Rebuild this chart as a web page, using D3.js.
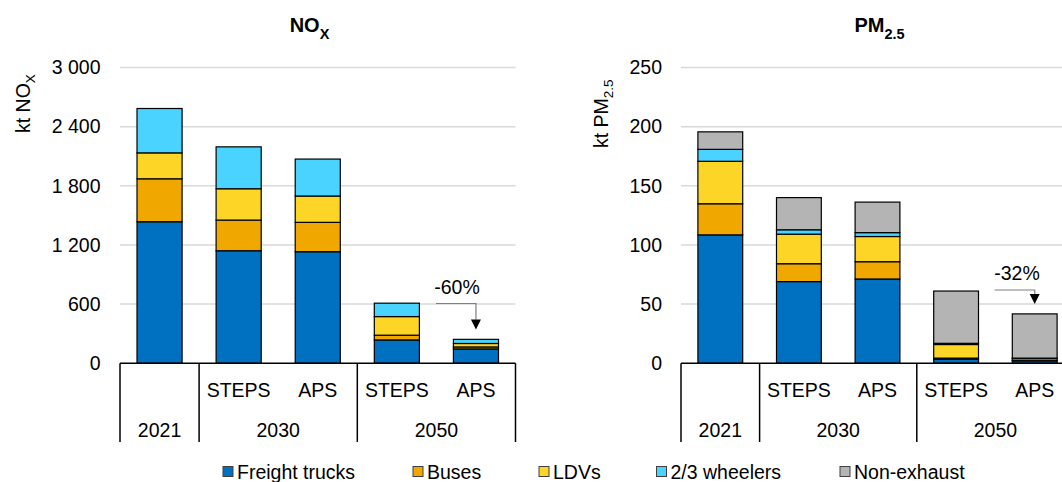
<!DOCTYPE html>
<html><head><meta charset="utf-8">
<script src="https://cdn.jsdelivr.net/npm/d3@7"></script>
<style>
body{margin:0;background:#fff;}
svg{display:block;font-family:"Liberation Sans",Arial,sans-serif;}
</style></head>
<body><svg id="c" width="1062" height="482"></svg>
<script>
// ---- data ----
const scenarios = ["", "STEPS", "APS", "STEPS", "APS"];
const years = ["2021", "2030", "2050"];
const yearSpans = [[0,0],[1,2],[3,4]];
const seriesNames = ["Freight trucks", "Buses", "LDVs", "2/3 wheelers", "Non-exhaust"];
const seriesColors = ["#0070C0", "#F0A800", "#FDD526", "#4BD3FF", "#B4B4B4"];

const noxFreight  = [1435, 1141, 1131, 236, 145];
const noxBuses    = [436, 311, 298, 48, 20];
const noxLDV      = [263, 318, 267, 189, 35];
const noxWheelers = [450, 425, 375, 136, 42];
const noxTicks = [0, 600, 1200, 1800, 2400, 3000];

const pmFreight  = [108.5, 69, 71.2, 3.5, 2];
const pmBuses    = [26.3, 15.1, 14.6, 0.8, 0.5];
const pmLDV      = [35.9, 25, 21.3, 11.5, 1.5];
const pmWheelers = [10.1, 3.7, 3.3, 1.0, 0.3];
const pmNonExh   = [14.8, 27.2, 25.8, 44.2, 37.4];
const pmTicks = [0, 50, 100, 150, 200, 250];

const noxChange = "-60%";
const pmChange = "-32%";

const svg = d3.select("#c");
const FS = 19.5;

function drawChart(cfg){
  const g = svg.append("g");
  const x = d3.scaleBand().domain(d3.range(5)).range([cfg.x0, cfg.x1]).paddingInner(0.43).paddingOuter(0.215);
  const y = d3.scaleLinear().domain([0, cfg.max]).range([363.2, 67.5]);
  const step = x.step();

  g.selectAll(".grid").data(cfg.ticks.filter(t=>t>0)).join("line")
    .attr("x1", cfg.x0).attr("x2", cfg.x1)
    .attr("y1", d=>y(d)).attr("y2", d=>y(d))
    .attr("stroke", "#D9D9D9").attr("stroke-width", 1.5);

  const ax = d3.axisLeft(y).tickValues(cfg.ticks).tickSize(0).tickPadding(0)
    .tickFormat(d => d3.format(",")(d).replace(/,/g, " "));
  const axg = g.append("g").attr("transform", `translate(${cfg.tickX},0)`).call(ax)
    .attr("font-size", FS).attr("font-family", "Liberation Sans, Arial, sans-serif");
  axg.select(".domain").remove();
  axg.selectAll("text").attr("fill", "#000");

  const rows = d3.range(5).map(i => {
    const o = {i};
    cfg.series.forEach((s, k) => o[k] = s[i]);
    return o;
  });
  const stack = d3.stack().keys(d3.range(cfg.series.length))(rows);
  stack.forEach((layer, k) => {
    g.selectAll(".b"+k).data(layer.filter(d => d[1]-d[0] > 0)).join("rect")
      .attr("x", d => x(d.data.i)).attr("width", x.bandwidth())
      .attr("y", d => y(d[1])).attr("height", d => y(d[0]) - y(d[1]))
      .attr("fill", seriesColors[k]).attr("stroke", "#000").attr("stroke-width", 1.2);
  });

  const yb = 442;
  g.append("line").attr("x1", cfg.x0).attr("x2", cfg.x1).attr("y1", y(0)).attr("y2", y(0))
    .attr("stroke", "#000").attr("stroke-width", 1.5);
  const seps = [cfg.x0, x(1) - (step - x.bandwidth())/2, x(3) - (step - x.bandwidth())/2, cfg.x1];
  g.selectAll(".sep").data(seps).join("line")
    .attr("x1", d=>d).attr("x2", d=>d).attr("y1", y(0)).attr("y2", yb)
    .attr("stroke", "#000").attr("stroke-width", 1.5);
  g.selectAll(".scen").data(scenarios).join("text")
    .attr("x", (d,i) => x(i) + x.bandwidth()/2).attr("y", 397)
    .attr("text-anchor", "middle").attr("font-size", FS).text(d=>d);
  g.selectAll(".yr").data(years).join("text")
    .attr("x", (d,i) => (x(yearSpans[i][0]) + x(yearSpans[i][1]) + x.bandwidth())/2)
    .attr("y", 437).attr("text-anchor", "middle").attr("font-size", FS).text(d=>d);

  const t = g.append("text").attr("x", cfg.titleX).attr("y", 32).attr("text-anchor", "middle")
    .attr("font-size", 20).attr("font-weight", "bold");
  t.append("tspan").text(cfg.title[0]);
  t.append("tspan").attr("dy", 7).attr("font-size", 14.5).text(cfg.title[1]);

  const yl = g.append("text").attr("transform", `translate(${cfg.ylX},${cfg.ylY}) rotate(-90)`)
    .attr("text-anchor", "start").attr("font-size", FS);
  yl.append("tspan").text(cfg.ylabel[0]);
  yl.append("tspan").attr("dy", 5).attr("font-size", 13.5).text(cfg.ylabel[1]);

  const cx = x(4) + x.bandwidth()/2;
  const ly = cfg.arrowY;
  g.append("text").attr("x", cfg.noteX).attr("y", ly - 10).attr("text-anchor", "middle")
    .attr("font-size", FS).text(cfg.change);
  g.append("path").attr("d", `M${cx-40},${ly}H${cx}V${ly+cfg.arrowLen}`)
    .attr("fill", "none").attr("stroke", "#7F7F7F").attr("stroke-width", 1.2);
  g.append("path").attr("d", `M${cx-5},${ly+cfg.arrowLen}H${cx+5}L${cx},${ly+cfg.arrowLen+10}Z`)
    .attr("fill", "#000");
}

drawChart({
  x0: 120, x1: 515.5, max: 3000, ticks: noxTicks, tickX: 100.5,
  series: [noxFreight, noxBuses, noxLDV, noxWheelers],
  title: ["NO", "X"], titleX: 309.5,
  ylabel: ["kt NO", "X"], ylX: 30, ylY: 133,
  change: noxChange, noteX: 457, arrowY: 303.5, arrowLen: 16
});
drawChart({
  x0: 681, x1: 1074, max: 250, ticks: pmTicks, tickX: 662,
  series: [pmFreight, pmBuses, pmLDV, pmWheelers, pmNonExh],
  title: ["PM", "2.5"], titleX: 879.5,
  ylabel: ["kt PM", "2.5"], ylX: 608, ylY: 148,
  change: pmChange, noteX: 1017, arrowY: 290, arrowLen: 4
});

const legX = [223, 413, 539, 656.5, 840];
const lg = svg.append("g");
seriesNames.forEach((n, i) => {
  lg.append("rect").attr("x", legX[i]).attr("y", 466.5).attr("width", 10).attr("height", 10)
    .attr("fill", seriesColors[i]).attr("stroke", "#404040").attr("stroke-width", 1);
  lg.append("text").attr("x", legX[i] + 14).attr("y", 479).attr("font-size", FS).text(n);
});
</script></body></html>
